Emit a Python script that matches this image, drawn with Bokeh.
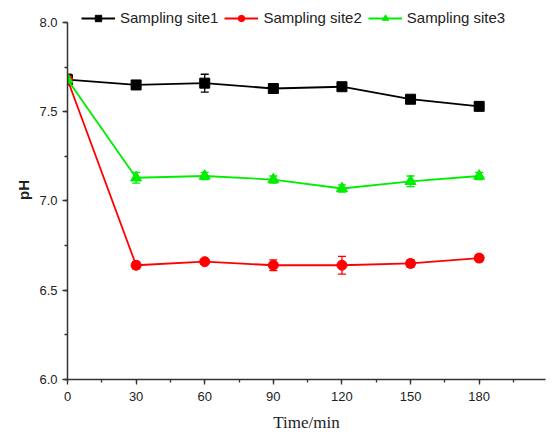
from bokeh.plotting import figure
from bokeh.models import Range1d, SingleIntervalTicker, ColumnDataSource, Whisker, TeeHead, NumeralTickFormatter
from bokeh.embed import file_html
from bokeh.resources import INLINE

time = [0, 30, 60, 90, 120, 150, 180]
site1 = [7.68, 7.65, 7.66, 7.63, 7.64, 7.57, 7.53]
site1_err = [0.03, 0.01, 0.05, 0.02, 0.01, 0.01, 0.01]
site2 = [7.68, 6.64, 6.66, 6.64, 6.64, 6.65, 6.68]
site2_err = [0.02, 0.02, 0.01, 0.03, 0.05, 0.02, 0.02]
site3 = [7.68, 7.13, 7.14, 7.12, 7.07, 7.11, 7.14]
site3_err = [0.03, 0.03, 0.02, 0.02, 0.02, 0.03, 0.02]
names = ["Sampling site1", "Sampling site2", "Sampling site3"]
colors = ["#000000", "#ff0000", "#00ee00"]
markers = ["square", "circle", "triangle"]
msizes = [10, 10, 11]

p = figure(width=553, height=435, output_backend="svg", toolbar_location=None,
           x_range=Range1d(0, 209), y_range=Range1d(6.0, 8.123),
           min_border_left=67, min_border_right=8, min_border_top=0, min_border_bottom=56)
p.outline_line_color = None
p.xgrid.visible = False
p.ygrid.visible = False

for vals, errs, name, col, mk, ms in zip([site1, site2, site3], [site1_err, site2_err, site3_err],
                                          names, colors, markers, msizes):
    src = ColumnDataSource(dict(x=time, y=vals,
                                upper=[v + e for v, e in zip(vals, errs)],
                                lower=[v - e for v, e in zip(vals, errs)]))
    w = Whisker(source=src, base="x", upper="upper", lower="lower", line_color=col, line_width=1.3,
                upper_head=TeeHead(size=8, line_color=col, line_width=1.3),
                lower_head=TeeHead(size=8, line_color=col, line_width=1.3))
    p.add_layout(w)
    p.line("x", "y", source=src, line_color=col, line_width=1.8, legend_label=name)
    p.scatter("x", "y", source=src, marker=mk, size=ms, fill_color=col, line_color=col, legend_label=name)

for ax in (p.xaxis[0], p.yaxis[0]):
    ax.axis_line_color = "#333333"
    ax.axis_line_width = 1.5
    ax.major_tick_line_color = "#333333"
    ax.minor_tick_line_color = "#333333"
    ax.major_tick_line_width = 1.3
    ax.minor_tick_line_width = 1.3
    ax.major_tick_out = 5
    ax.major_tick_in = 0
    ax.minor_tick_out = 3
    ax.minor_tick_in = 0
    ax.major_label_text_font = "Liberation Sans"
    ax.major_label_text_font_size = "13px"
    ax.major_label_text_color = "#222222"

p.xaxis.ticker = SingleIntervalTicker(interval=30, num_minor_ticks=2)
p.yaxis.ticker = SingleIntervalTicker(interval=0.5, num_minor_ticks=2)
p.yaxis.formatter = NumeralTickFormatter(format="0.0")
p.yaxis.bounds = (6.0, 8.0)
p.xaxis.major_label_standoff = 7
p.yaxis.major_label_standoff = 5

p.xaxis.axis_label = "Time/min"
p.xaxis.axis_label_text_font = "Liberation Serif"
p.xaxis.axis_label_text_font_style = "normal"
p.xaxis.axis_label_text_font_size = "17px"
p.xaxis.axis_label_text_color = "#222222"
p.xaxis.axis_label_standoff = 9

p.yaxis.axis_label = "pH"
p.yaxis.axis_label_text_font = "Liberation Sans"
p.yaxis.axis_label_text_font_style = "bold"
p.yaxis.axis_label_text_font_size = "15px"
p.yaxis.axis_label_text_color = "#222222"
p.yaxis.axis_label_standoff = 4

lg = p.legend[0]
lg.orientation = "horizontal"
lg.location = (14, 353)
lg.margin = 0
lg.padding = 0
lg.border_line_color = None
lg.background_fill_alpha = 0
lg.glyph_width = 34
lg.glyph_height = 16
lg.label_height = 16
lg.label_standoff = 5
lg.spacing = 6
lg.label_text_font = "Liberation Sans"
lg.label_text_font_size = "15px"
lg.label_text_color = "#222222"

open("out.html", "w").write(file_html(p, INLINE))
